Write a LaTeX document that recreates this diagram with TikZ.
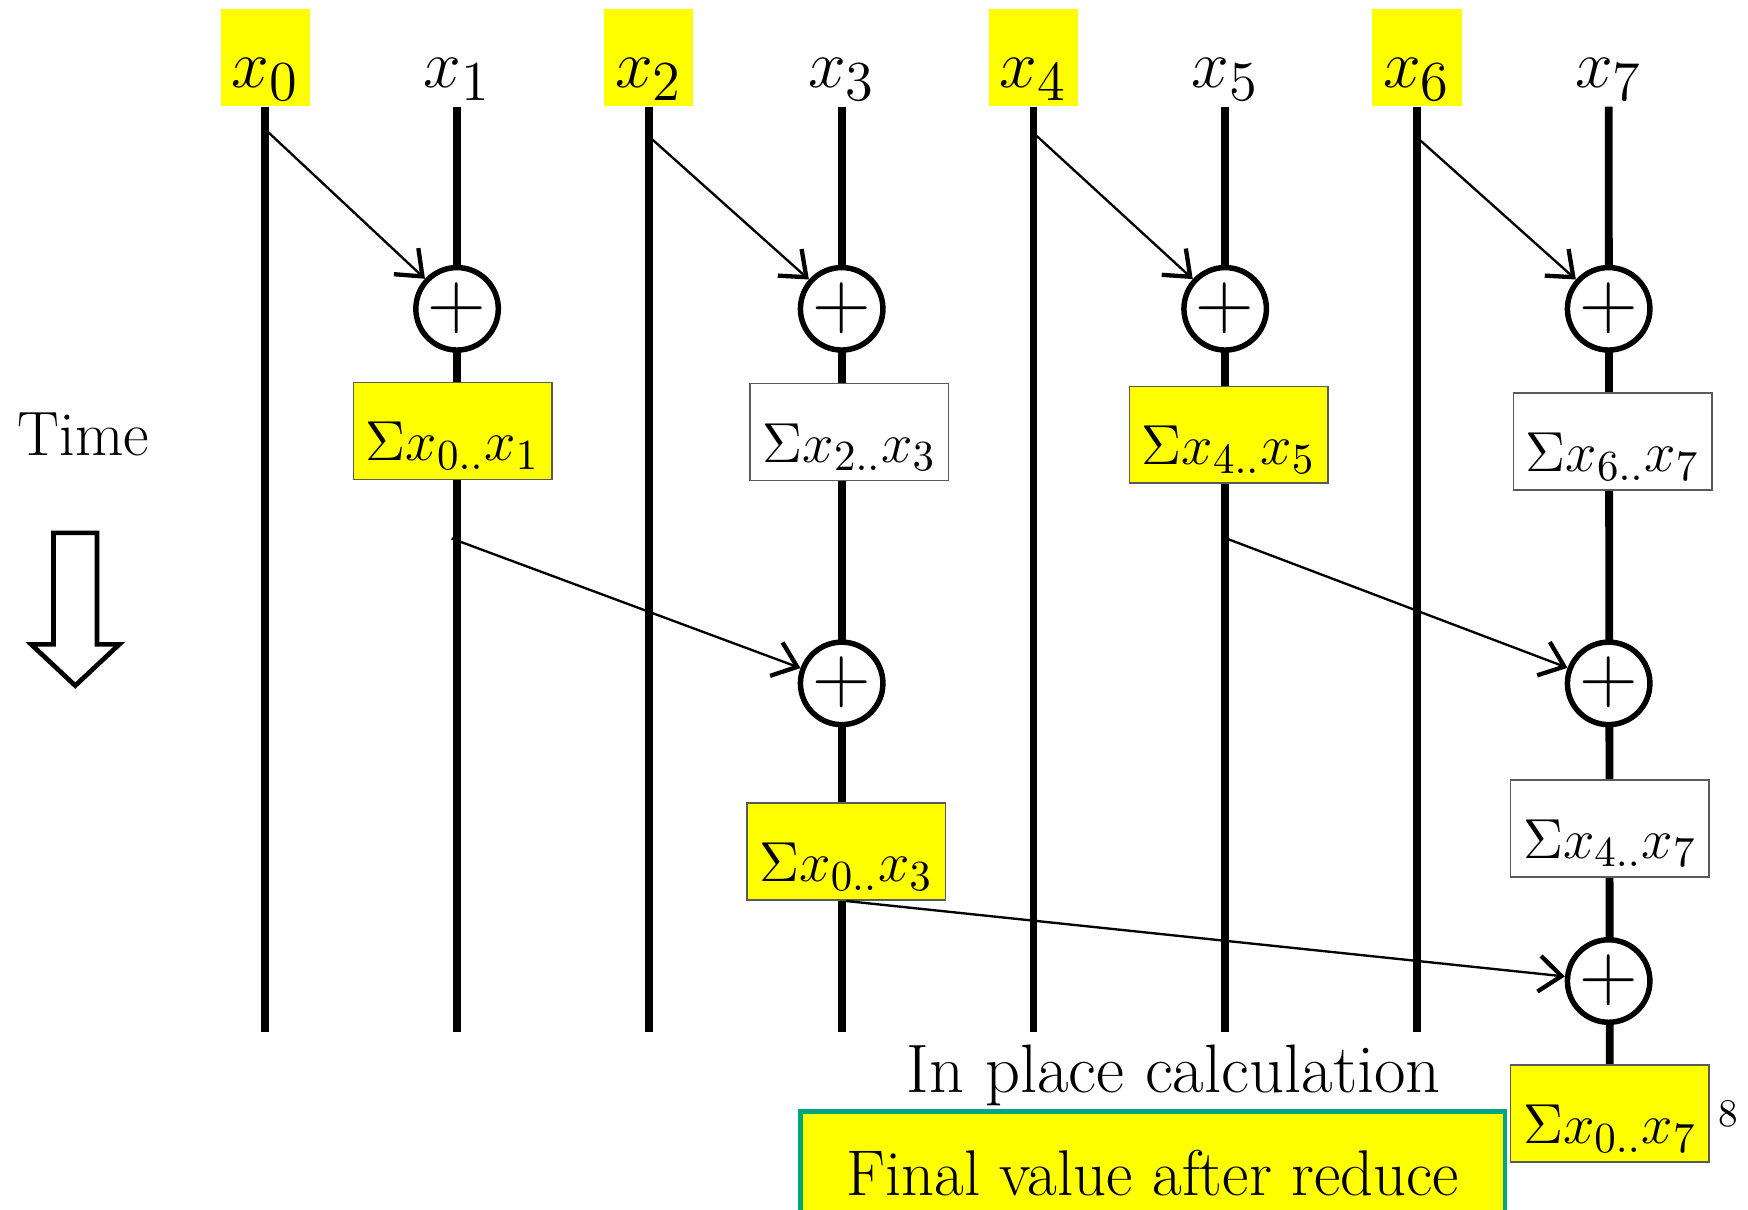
\documentclass[tikz,border=0pt]{standalone}
\usetikzlibrary{arrows.meta, backgrounds}
\definecolor{hlyellow}{RGB}{255,255,0}
\definecolor{boxteal}{RGB}{0,166,128}
\definecolor{boxgray}{RGB}{90,90,90}
\newcommand{\xin}[1]{\raisebox{-0.27cm}[0pt][0pt]{$x_{#1}$}}
\newcommand{\sumx}[2]{\raisebox{-0.27cm}[0pt][0pt]{$\Sigma x_{#1..}x_{#2}$}}
\newcommand{\plussign}{\raisebox{-0.25em}[0pt][0pt]{\makebox[0pt]{$+$}}}

\begin{document}
\begin{tikzpicture}[
  varlabel/.style={minimum width=0.8cm, minimum height=0.87cm, inner sep=0pt, font=\fontsize{19}{22}\selectfont},
  hilite/.style={fill=hlyellow},
  addnode/.style={circle, draw, line width=1.4pt, fill=white, minimum size=0.74cm, inner sep=0pt, font=\fontsize{20}{22}\selectfont},
  sumbox/.style={draw=boxgray, thin, fill=white, minimum width=1.78cm, minimum height=0.87cm, inner sep=1pt, font=\fontsize{15.5}{18}\selectfont},
  wire/.style={line width=2pt},
  flow/.style={-{Straight Barb[length=2mm,width=3.2mm,line width=1.1pt]}, line width=0.6pt}
]
  \useasboundingbox (0,0) rectangle (15.68,-10.85);

  % input values (yellow = kept in place)
  \node[varlabel, hilite] (x0) at (2.38,-0.515) {\xin{0}};
  \node[varlabel]         (x1) at (4.10,-0.515) {\xin{1}};
  \node[varlabel, hilite] (x2) at (5.82,-0.515) {\xin{2}};
  \node[varlabel]         (x3) at (7.55,-0.515) {\xin{3}};
  \node[varlabel, hilite] (x4) at (9.27,-0.515) {\xin{4}};
  \node[varlabel]         (x5) at (10.99,-0.515) {\xin{5}};
  \node[varlabel, hilite] (x6) at (12.71,-0.515) {\xin{6}};
  \node[varlabel]         (x7) at (14.43,-0.515) {\xin{7}};

  % step 1: pairs
  \node[addnode] (p1) at (4.10,-2.77) {\plussign};
  \node[addnode] (p3) at (7.55,-2.77) {\plussign};
  \node[addnode] (p5) at (10.99,-2.77) {\plussign};
  \node[addnode] (p7) at (14.43,-2.77) {\plussign};
  \node[sumbox, hilite] (s01) at (4.06,-3.865) {\sumx{0}{1}};
  \node[sumbox]         (s23) at (7.62,-3.875) {\sumx{2}{3}};
  \node[sumbox, hilite] (s45) at (11.02,-3.90) {\sumx{4}{5}};
  \node[sumbox]         (s67) at (14.465,-3.96) {\sumx{6}{7}};

  % step 2
  \node[addnode] (q3) at (7.55,-6.13) {\plussign};
  \node[addnode] (q7) at (14.43,-6.13) {\plussign};
  \node[sumbox, hilite] (s03) at (7.59,-7.64) {\sumx{0}{3}};
  \node[sumbox]         (s47) at (14.44,-7.43) {\sumx{4}{7}};

  % step 3: final sum
  \node[addnode] (r7) at (14.43,-8.80) {\plussign};
  \node[sumbox, hilite] (s07) at (14.44,-9.99) {\sumx{0}{7}};
  \node[font=\fontsize{10}{12}\selectfont] (pgno) at (15.50,-9.99) {8};

  % wire ends and arrow tails
  \coordinate (e0) at (2.38,-9.26);
  \coordinate (e1) at (4.10,-9.26);
  \coordinate (e2) at (5.82,-9.26);
  \coordinate (e3) at (7.55,-9.26);
  \coordinate (e4) at (9.27,-9.26);
  \coordinate (e5) at (10.99,-9.26);
  \coordinate (e6) at (12.71,-9.26);
  \coordinate (a0) at (2.40,-1.18);
  \coordinate (a2) at (5.85,-1.25);
  \coordinate (a4) at (9.30,-1.22);
  \coordinate (a6) at (12.73,-1.25);
  \coordinate (b1) at (4.05,-4.83);
  \coordinate (b5) at (11.00,-4.83);

  % vertical wires behind everything
  \begin{scope}[on background layer]
    \draw[wire] (x0.south) -- (e0);
    \draw[wire] (x1.south) -- (e1);
    \draw[wire] (x2.south) -- (e2);
    \draw[wire] (x3.south) -- (e3);
    \draw[wire] (x4.south) -- (e4);
    \draw[wire] (x5.south) -- (e5);
    \draw[wire] (x6.south) -- (e6);
    \draw[wire] (x7.south) -- (s07.north);
  \end{scope}

  % data movement
  \draw[flow] (a0) -- (p1);
  \draw[flow] (a2) -- (p3);
  \draw[flow] (a4) -- (p5);
  \draw[flow] (a6) -- (p7);
  \draw[flow] (b1) -- (q3);
  \draw[flow] (b5) -- (q7);
  \draw[flow] (s03.south) -- (r7);

  % time axis
  \node[font=\fontsize{16}{19}\selectfont] (time) at (0.75,-3.90) {Time};
  \draw[line width=1.2pt] (0.48,-4.78) -- (0.87,-4.78) -- (0.87,-5.78) -- (1.07,-5.78)
    -- (0.675,-6.15) -- (0.28,-5.78) -- (0.48,-5.78) -- cycle;

  % captions
  \node[font=\fontsize{17.5}{20}\selectfont] (inplace) at (10.53,-9.65) {In place calculation};
  \node[draw=boxteal, line width=1.1pt, fill=hlyellow, minimum width=6.32cm, minimum height=1.1cm,
    font=\fontsize{16.5}{20}\selectfont] (final) at (10.34,-10.52) {Final value after reduce};

\end{tikzpicture}
\end{document}
